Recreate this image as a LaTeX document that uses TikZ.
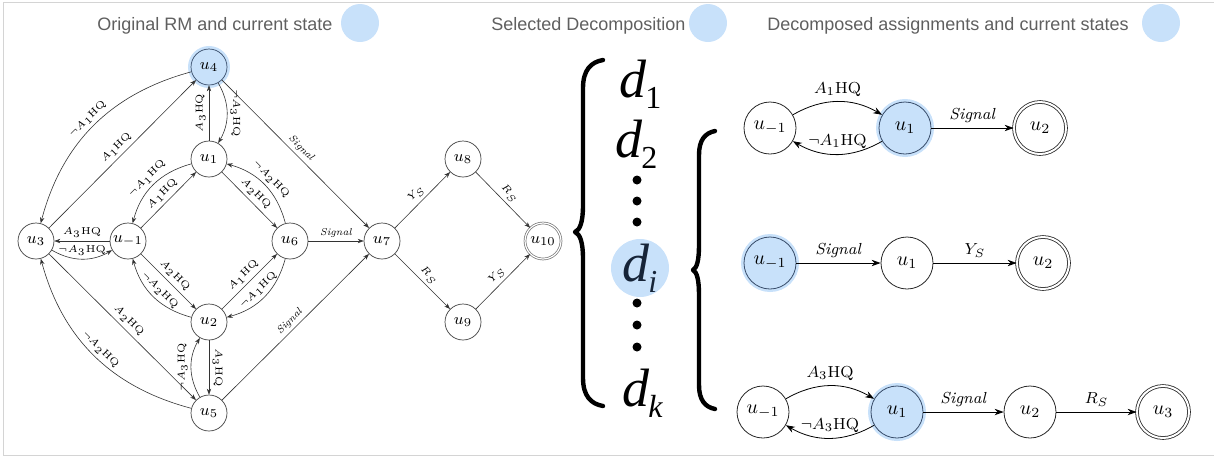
\documentclass[tikz,border=0pt]{standalone}
\usepackage{fontspec}
\newfontfamily\titlefont{Liberation Sans}
\newfontfamily\dfont{Liberation Serif}
\usetikzlibrary{arrows.meta}
\definecolor{hl}{RGB}{200,225,250}
\definecolor{hlborder}{RGB}{55,75,105}
\definecolor{titlegray}{RGB}{95,95,95}
\definecolor{framegray}{RGB}{212,212,212}
\definecolor{dnavy}{RGB}{22,36,56}
\newcommand{\dsub}[2]{{\dfont\itshape d\kern-0.5pt\raisebox{-5.5pt}{\fontsize{16}{18}\selectfont #1}}}
\begin{document}
\begin{tikzpicture}[x=0.5pt,y=0.5pt,
  lnode/.style={circle, draw=black!75, line width=0.35pt, minimum size=18pt, inner sep=0pt, font=\fontsize{8}{9}\selectfont},
  lacc/.style={lnode, draw=black!55, double, double distance=0.6pt},
  ledge/.style={-{Stealth[length=3pt,width=2.2pt]}, line width=0.3pt, draw=black!80},
  llab/.style={font=\fontsize{5}{6}\selectfont, sloped, above, inner sep=1.6pt},
  rnode/.style={circle, draw=black!85, line width=0.4pt, minimum size=26pt, inner sep=0pt, font=\fontsize{10}{12}\selectfont},
  racc/.style={rnode, double, double distance=1pt},
  redge/.style={-{Stealth[length=4.5pt,width=3.2pt]}, line width=0.4pt},
  rlab/.style={font=\fontsize{8}{10}\selectfont, above, inner sep=2.5pt},
  hlnode/.style={fill=hl, draw=hlborder, preaction={draw=hl, line width=3pt}},
  titletext/.style={font=\titlefont\fontsize{9}{11}\selectfont, text=titlegray, inner sep=0pt, anchor=base west},
  titledot/.style={circle, fill=hl, minimum size=19pt, inner sep=0pt},
  dtext/.style={font=\fontsize{27}{30}\selectfont, inner sep=0pt, anchor=base west},
  bracestroke/.style={line width=2.2pt, line cap=round, line join=round}
]
\useasboundingbox (0,0) rectangle (1214,-457);
\draw[framegray, line width=0.5pt] (1215,-2.5) -- (3,-2.5) -- (3,-455) -- (1215,-455);

% titles
\node[titletext] (t1) at (97,-30) {Original RM and current state};
\node[titledot] (t1d) at (360,-23) {};
\node[titletext] (t2) at (491,-30) {Selected Decomposition};
\node[titledot] (t2d) at (708,-23) {};
\node[titletext] (t3) at (767,-30) {Decomposed assignments and current states};
\node[titledot] (t3d) at (1161,-23) {};

% ---------- left reward machine ----------
\node[lnode, hlnode] (u4) at (209,-67) {$u_4$};
\node[lnode] (u1) at (209,-159) {$u_1$};
\node[lnode] (u3) at (36,-241) {$u_3$};
\node[lnode] (um) at (128,-241) {$u_{-1}$};
\node[lnode] (u6) at (290,-241) {$u_6$};
\node[lnode] (u7) at (382,-241) {$u_7$};
\node[lnode] (u8) at (463,-159) {$u_8$};
\node[lnode] (u9) at (463,-322) {$u_9$};
\node[lacc] (u10) at (543,-241) {$u_{10}$};
\node[lnode] (u2) at (209,-322) {$u_2$};
\node[lnode] (u5) at (209,-413) {$u_5$};

\draw[ledge] (u4) to[bend right=30] node[llab] {$\neg A_1$HQ} (u3);
\draw[ledge] (u3) -- node[llab] {$A_1$HQ} (u4);
\draw[ledge] (u1) -- node[llab, allow upside down] {$A_3$HQ} (u4);
\draw[ledge] (u4) to[bend left=30] node[llab, allow upside down] {$\neg A_3$HQ} (u1);
\draw[ledge] (u4) -- node[llab] {\textit{Signal}} (u7);
\draw[ledge] (u1) to[bend right=30] node[llab] {$\neg A_1$HQ} (um);
\draw[ledge] (um) -- node[llab] {$A_1$HQ} (u1);
\draw[ledge] (u1) -- node[llab] {$A_2$HQ} (u6);
\draw[ledge] (u6) to[bend right=30] node[llab] {$\neg A_2$HQ} (u1);
\draw[ledge] (um) -- node[llab] {$A_3$HQ} (u3);
\draw[ledge] (u3) to[bend right=30] node[llab] {$\neg A_3$HQ} (um);
\draw[ledge] (um) -- node[llab] {$A_2$HQ} (u2);
\draw[ledge] (u2) to[bend left=30] node[llab] {$\neg A_2$HQ} (um);
\draw[ledge] (u2) -- node[llab] {$A_1$HQ} (u6);
\draw[ledge] (u6) to[bend left=30] node[llab] {$\neg A_1$HQ} (u2);
\draw[ledge] (u3) -- node[llab] {$A_2$HQ} (u5);
\draw[ledge] (u5) to[bend left=30] node[llab] {$\neg A_2$HQ} (u3);
\draw[ledge] (u2) -- node[llab, allow upside down] {$A_3$HQ} (u5);
\draw[ledge] (u5) to[bend left=30] node[llab, allow upside down] {$\neg A_3$HQ} (u2);
\draw[ledge] (u5) -- node[llab] {\textit{Signal}} (u7);
\draw[ledge] (u6) -- node[llab] {\textit{Signal}} (u7);
\draw[ledge] (u7) -- node[llab] {$Y_S$} (u8);
\draw[ledge] (u7) -- node[llab] {$R_S$} (u9);
\draw[ledge] (u8) -- node[llab] {$R_S$} (u10);
\draw[ledge] (u9) -- node[llab] {$Y_S$} (u10);

% ---------- decompositions ----------
\draw[bracestroke] (603,-60) .. controls (591,-62) and (583,-70) .. (583,-88)
  -- (583,-205) .. controls (583,-222) and (580,-230) .. (575,-232)
  .. controls (580,-234) and (583,-242) .. (583,-259)
  -- (583,-378) .. controls (583,-396) and (591,-404) .. (603,-406);
\node[dtext] (d1) at (619,-97) {\dsub{\upshape 1}{}};
\node[dtext] (d2) at (615,-157) {\dsub{\upshape 2}{}};
\fill (637,-180) circle (4.5);
\fill (637,-201) circle (4.5);
\fill (637,-222) circle (4.5);
\node[circle, fill=hl, minimum size=29pt, inner sep=0pt] (dih) at (640,-268) {};
\node[dtext, text=dnavy] (di) at (622,-281) {\dsub{i}{}};
\fill (637,-303) circle (4.5);
\fill (637,-325) circle (4.5);
\fill (637,-347) circle (4.5);
\node[dtext] (dk) at (622,-406) {\dsub{k}{}};

\draw[bracestroke] (715,-131) .. controls (705,-133) and (699,-140) .. (699,-155)
  -- (699,-245) .. controls (699,-260) and (697,-268) .. (693,-270)
  .. controls (697,-272) and (699,-280) .. (699,-295)
  -- (699,-385) .. controls (699,-400) and (705,-407) .. (715,-409);

% ---------- decomposed assignments ----------
\node[rnode] (a1) at (770,-128) {$u_{-1}$};
\node[rnode, hlnode] (a2) at (905,-128) {$u_1$};
\node[racc] (a3) at (1040,-128) {$u_2$};
\draw[redge] (a1) to[bend left=30] node[rlab] {$A_1$HQ} (a2);
\draw[redge] (a2) to[bend left=30] node[rlab] {$\neg A_1$HQ} (a1);
\draw[redge] (a2) -- node[rlab] {\textit{Signal}} (a3);

\node[rnode, hlnode] (b1) at (770,-263) {$u_{-1}$};
\node[rnode] (b2) at (907,-263) {$u_1$};
\node[racc] (b3) at (1043,-263) {$u_2$};
\draw[redge] (b1) -- node[rlab] {\textit{Signal}} (b2);
\draw[redge] (b2) -- node[rlab] {$Y_S$} (b3);

\node[rnode] (c1) at (763,-412) {$u_{-1}$};
\node[rnode, hlnode] (c2) at (897,-412) {$u_1$};
\node[rnode] (c3) at (1030,-412) {$u_2$};
\node[racc] (c4) at (1163,-412) {$u_3$};
\draw[redge] (c1) to[bend left=30] node[rlab] {$A_3$HQ} (c2);
\draw[redge] (c2) to[bend left=30] node[rlab] {$\neg A_3$HQ} (c1);
\draw[redge] (c2) -- node[rlab] {\textit{Signal}} (c3);
\draw[redge] (c3) -- node[rlab] {$R_S$} (c4);
\end{tikzpicture}
\end{document}
